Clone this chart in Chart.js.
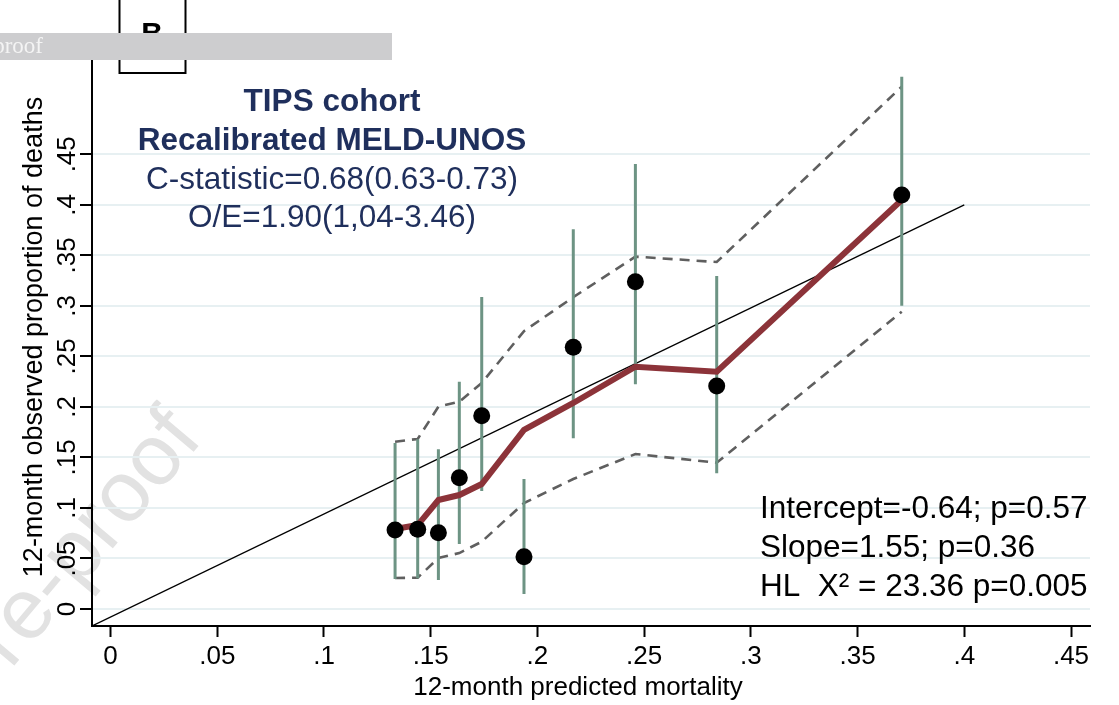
<!DOCTYPE html>
<html><head><meta charset="utf-8">
<script src="https://cdn.jsdelivr.net/npm/chart.js@4.4.1/dist/chart.umd.min.js"></script>
<style>html,body{margin:0;padding:0;background:#fff;overflow:hidden}#wrap{width:1119px;height:705px;position:relative}</style>
</head><body><div id="wrap"><canvas id="c" width="1119" height="705"></canvas></div>
<script>
// ---- data ----
const predicted = [0.1333, 0.1439, 0.1536, 0.1634, 0.1739, 0.1937, 0.2168, 0.2459, 0.2840, 0.3707];
const observed  = [0.0782, 0.0789, 0.0755, 0.1300, 0.1913, 0.0518, 0.2590, 0.3239, 0.2207, 0.4097];
const ciLow     = [0.0297, 0.0304, 0.0287, 0.0643, 0.1168, 0.0148, 0.1690, 0.2224, 0.1343, 0.3002];
const ciHigh    = [0.1643, 0.1680, 0.1580, 0.2250, 0.3088, 0.1287, 0.3758, 0.4404, 0.3296, 0.5268];
const smoothY   = [0.0792, 0.0831, 0.1079, 0.1128, 0.1237, 0.1772, 0.2039, 0.2398, 0.2349, 0.4048];
const bandUpper = [0.1656, 0.1683, 0.2002, 0.2052, 0.2237, 0.2750, 0.3086, 0.3487, 0.3434, 0.5169];
const bandLower = [0.0307, 0.0310, 0.0505, 0.0554, 0.0666, 0.1049, 0.1287, 0.1534, 0.1448, 0.2942];
const refLineX  = [-0.0087, 0.4];
const refLineY  = [-0.0168, 0.4];
const xTicks = [0, 0.05, 0.1, 0.15, 0.2, 0.25, 0.3, 0.35, 0.4, 0.45];
const xTickLabels = ["0", ".05", ".1", ".15", ".2", ".25", ".3", ".35", ".4", ".45"];
const yTicks = [0, 0.05, 0.1, 0.15, 0.2, 0.25, 0.3, 0.35, 0.4, 0.45];
const yTickLabels = ["0", ".05", ".1", ".15", ".2", ".25", ".3", ".35", ".4", ".45"];
const titleLines = ["TIPS cohort", "Recalibrated MELD-UNOS", "C-statistic=0.68(0.63-0.73)", "O/E=1.90(1,04-3.46)"];
const statLines = ["Intercept=-0.64; p=0.57", "Slope=1.55; p=0.36", "HL  X\u00B2 = 23.36 p=0.005"];
const xTitle = "12-month predicted mortality";
const yTitle = "12-month observed proportion of deaths";
const panelLabel = "B";
const bannerText = "Journal Pre-proof";

// ---- build datasets ----
const ciData = [];
predicted.forEach((x, i) => { ciData.push({x, y: ciLow[i]}, {x, y: ciHigh[i]}, {x, y: null}); });

const FONT = '"Liberation Sans", Arial, sans-serif';

const decor = {
  id: 'decor',
  beforeDraw(chart) {
    const ctx = chart.ctx;
    ctx.save();
    ctx.fillStyle = '#fff';
    ctx.fillRect(0, 0, chart.width, chart.height);
    // watermark
    ctx.translate(186, 424);
    ctx.rotate(-50 * Math.PI / 180);
    ctx.fillStyle = '#e2e2e2';
    ctx.font = '86px ' + FONT;
    ctx.textAlign = 'right';
    ctx.textBaseline = 'middle';
    ctx.fillText(bannerText, 0, 0);
    ctx.restore();
  },
  afterDraw(chart) {
    const ctx = chart.ctx;
    const ys = chart.scales.y;
    ctx.save();
    // y tick labels (rotated)
    ctx.fillStyle = '#000';
    ctx.font = '26px ' + FONT;
    ctx.textAlign = 'center';
    ctx.textBaseline = 'alphabetic';
    yTicks.forEach((v, i) => {
      const py = ys.getPixelForValue(v);
      ctx.save();
      ctx.translate(75, py);
      ctx.rotate(-Math.PI / 2);
      ctx.fillText(yTickLabels[i], 0, 0);
      ctx.restore();
    });
    // y title
    ctx.save();
    ctx.font = '27px ' + FONT;
    ctx.translate(42, 337);
    ctx.rotate(-Math.PI / 2);
    ctx.fillText(yTitle, 0, 0);
    ctx.restore();
    // x title
    ctx.font = '26px ' + FONT;
    ctx.fillText(xTitle, 578, 695);

    // annotation block
    ctx.fillStyle = '#1f2f5c';
    ctx.textBaseline = 'middle';
    const ty = [102, 141, 180, 218];
    titleLines.forEach((t, i) => {
      ctx.font = (i < 2 ? 'bold ' : '') + '31.5px ' + FONT;
      ctx.fillText(t, 332, ty[i]);
    });
    ctx.fillStyle = '#000';
    ctx.textAlign = 'left';
    ctx.font = '31.5px ' + FONT;
    const sy = [509, 548, 587];
    statLines.forEach((t, i) => ctx.fillText(t, 760, sy[i]));

    // panel box
    ctx.strokeStyle = '#000';
    ctx.lineWidth = 2;
    ctx.strokeRect(119.5, -10, 66, 83);
    ctx.font = 'bold 30px ' + FONT;
    ctx.textAlign = 'center';
    ctx.textBaseline = 'alphabetic';
    ctx.fillText(panelLabel, 152, 43);
    // banner
    ctx.fillStyle = '#cdcdcf';
    ctx.fillRect(0, 33, 392, 27);
    ctx.fillStyle = '#f4f4f4';
    ctx.font = '23px "Liberation Serif", "Times New Roman", serif';
    ctx.textAlign = 'right';
    ctx.fillText(bannerText, 43, 53);
    ctx.restore();
  }
};

new Chart(document.getElementById('c').getContext('2d'), {
  type: 'scatter',
  data: {
    datasets: [
      { label: 'observed', data: predicted.map((x, i) => ({x, y: observed[i]})),
        pointRadius: 8.5, pointHoverRadius: 8.5, pointBackgroundColor: '#000', pointBorderWidth: 0, showLine: false, order: 0 },
      { label: 'smoothed', type: 'line', data: predicted.map((x, i) => ({x, y: smoothY[i]})),
        borderColor: '#8c3339', borderWidth: 6, pointRadius: 0, fill: false, tension: 0, order: 1 },
      { label: 'ci', type: 'line', data: ciData, spanGaps: false,
        borderColor: '#6d9484', borderWidth: 3, pointRadius: 0, fill: false, order: 2 },
      { label: 'upper', type: 'line', data: predicted.map((x, i) => ({x, y: bandUpper[i]})),
        borderColor: '#5f5f5f', borderDash: [10, 7], borderWidth: 2.6, pointRadius: 0, fill: false, order: 3 },
      { label: 'lower', type: 'line', data: predicted.map((x, i) => ({x, y: bandLower[i]})),
        borderColor: '#5f5f5f', borderDash: [10, 7], borderWidth: 2.6, pointRadius: 0, fill: false, order: 4 },
      { label: 'reference', type: 'line', data: refLineX.map((x, i) => ({x, y: refLineY[i]})),
        borderColor: '#000', borderWidth: 1.3, pointRadius: 0, fill: false, order: 5 }
    ]
  },
  options: {
    responsive: false,
    animation: false,
    events: [],
    layout: { padding: { left: 0, right: 29, top: 60, bottom: 0 } },
    plugins: { legend: { display: false }, tooltip: { enabled: false } },
    scales: {
      x: {
        type: 'linear', position: 'bottom', min: -0.0087, max: 0.4589,
        afterFit(s) { s.height = 79; },
        afterBuildTicks(s) { s.ticks = xTicks.map(v => ({value: v})); },
        ticks: { font: { family: FONT, size: 26 }, color: '#000', padding: 4, maxRotation: 0, autoSkip: false,
                 callback: (v, i) => xTickLabels[i] },
        grid: { drawOnChartArea: false, drawTicks: true, tickLength: 11, tickColor: '#000', tickWidth: 2 },
        border: { display: true, color: '#000', width: 2 }
      },
      y: {
        type: 'linear', position: 'left', min: -0.0168, max: 0.5433,
        afterFit(s) { s.width = 92; },
        afterBuildTicks(s) { s.ticks = yTicks.map(v => ({value: v})); },
        ticks: { display: false },
        grid: { color: '#e7f0f2', lineWidth: 2, drawTicks: true, tickLength: 12, tickColor: '#000', tickWidth: 2 },
        border: { display: true, color: '#000', width: 2 }
      }
    }
  },
  plugins: [decor]
});
</script>
</body></html>
